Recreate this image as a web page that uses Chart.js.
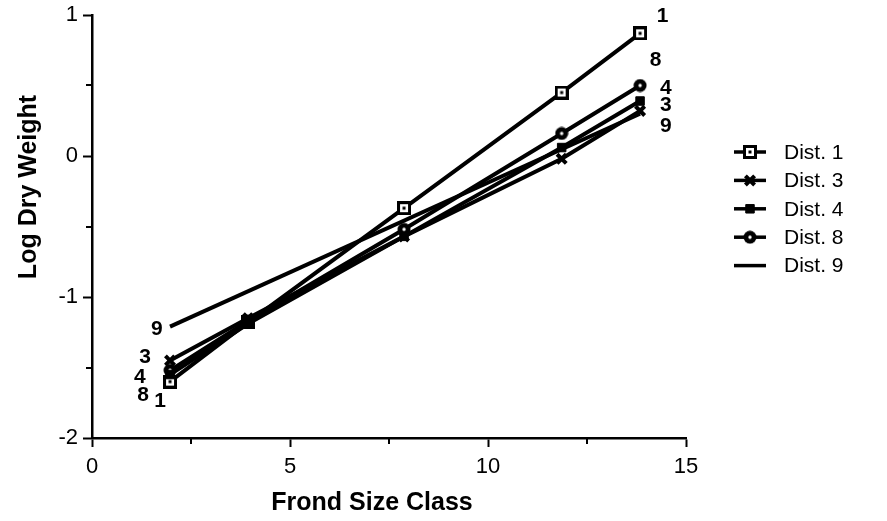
<!DOCTYPE html>
<html>
<head>
<meta charset="utf-8">
<script src="https://cdn.jsdelivr.net/npm/chart.js@4.4.1/dist/chart.umd.min.js"></script>
<style>
  html, body { margin: 0; padding: 0; background: #fff; }
  #wrap { width: 887px; height: 521px; position: relative; }
</style>
</head>
<body>
<div id="wrap"><canvas id="frondChart"></canvas></div>
<script>
// frond size class (x) and log dry weight per distance group
const sizeClass = [1.97, 3.94, 7.88, 11.86, 13.84];
const dist1 = [-1.60, -1.18, -0.37, 0.45, 0.87];
const dist3 = [-1.45, -1.15, -0.57, -0.02, 0.32];
const dist4 = [-1.55, -1.19, -0.57, 0.06, 0.39];
const dist8 = [-1.52, -1.17, -0.52, 0.16, 0.50];
const dist9X = [1.97, 13.84];
const dist9 = [-1.21, 0.30];

const seriesNames = ['Dist. 1', 'Dist. 3', 'Dist. 4', 'Dist. 8', 'Dist. 9'];

// group numbers written next to the line ends
const rightTags = ['1', '8', '4', '3', '9'];
const rightTagX = [14.41, 14.23, 14.49, 14.49, 14.49];
const rightTagY = [0.99, 0.68, 0.48, 0.36, 0.21];
const leftTags = ['9', '3', '4', '8', '1'];
const leftTagX = [1.64, 1.34, 1.21, 1.29, 1.72];
const leftTagY = [-1.23, -1.43, -1.57, -1.70, -1.74];

const xMinor = [2.5, 7.5, 12.5];
const yMinor = [-1.5, -0.5, 0.5];

const FONT = '"Liberation Sans", Arial, Helvetica, sans-serif';

function pts(xs, ys) {
  return xs.map((x, i) => ({ x: x, y: ys[i] }));
}

// open square with a dot in the middle
function squareMark() {
  const c = document.createElement('canvas');
  c.width = 14; c.height = 14;
  const g = c.getContext('2d');
  g.fillStyle = '#000'; g.fillRect(0, 0, 14, 14);
  g.fillStyle = '#fff'; g.fillRect(3, 3, 8, 8);
  g.fillStyle = '#000'; g.fillRect(5.5, 5.5, 3, 3);
  return c;
}

// solid round mark with a white centre
function dotMark() {
  const c = document.createElement('canvas');
  c.width = 14; c.height = 14;
  const g = c.getContext('2d');
  g.fillStyle = '#000';
  g.beginPath(); g.arc(7, 7, 6.5, 0, Math.PI * 2); g.fill();
  g.fillStyle = '#fff';
  g.beginPath(); g.arc(7, 7, 1.7, 0, Math.PI * 2); g.fill();
  return c;
}

const markStyles = [
  { pointStyle: squareMark(), radius: 7, borderWidth: 0 },
  { pointStyle: 'crossRot', radius: 6.5, borderWidth: 4 },
  { pointStyle: 'rect', radius: 6, borderWidth: 1 },
  { pointStyle: dotMark(), radius: 7, borderWidth: 0 },
  { pointStyle: false, radius: 0, borderWidth: 0 }
];

function lineSet(label, data, m) {
  return {
    label: label,
    data: data,
    borderColor: '#000',
    backgroundColor: '#000',
    borderWidth: 4,
    tension: 0,
    fill: false,
    pointStyle: m.pointStyle,
    pointRadius: m.radius,
    pointBorderWidth: m.borderWidth,
    pointBackgroundColor: '#000',
    pointBorderColor: '#000'
  };
}

const datasets = [
  lineSet(seriesNames[4], pts(dist9X, dist9), markStyles[4]),
  lineSet(seriesNames[2], pts(sizeClass, dist4), markStyles[2]),
  lineSet(seriesNames[1], pts(sizeClass, dist3), markStyles[1]),
  lineSet(seriesNames[3], pts(sizeClass, dist8), markStyles[3]),
  lineSet(seriesNames[0], pts(sizeClass, dist1), markStyles[0])
];

// minor ticks, axis titles, group numbers and the key
const extrasPlugin = {
  id: 'extras',
  afterDraw(chart) {
    const ctx = chart.ctx;
    const xs = chart.scales.x, ys = chart.scales.y;
    const area = chart.chartArea;
    ctx.save();
    ctx.strokeStyle = '#000';
    ctx.lineWidth = 2;
    xMinor.forEach(v => {
      const px = Math.round(xs.getPixelForValue(v));
      ctx.beginPath(); ctx.moveTo(px, area.bottom); ctx.lineTo(px, area.bottom + 6); ctx.stroke();
    });
    yMinor.forEach(v => {
      const py = Math.round(ys.getPixelForValue(v));
      ctx.beginPath(); ctx.moveTo(area.left, py); ctx.lineTo(area.left - 6, py); ctx.stroke();
    });

    ctx.fillStyle = '#000';
    ctx.textAlign = 'center';
    ctx.textBaseline = 'middle';

    ctx.font = 'bold 25px ' + FONT;
    ctx.fillText('Frond Size Class', 372, 503);
    ctx.save();
    ctx.translate(29, 187);
    ctx.rotate(-Math.PI / 2);
    ctx.fillText('Log Dry Weight', 0, 0);
    ctx.restore();

    ctx.font = 'bold 21px ' + FONT;
    rightTags.forEach((t, i) => {
      ctx.fillText(t, xs.getPixelForValue(rightTagX[i]), ys.getPixelForValue(rightTagY[i]));
    });
    leftTags.forEach((t, i) => {
      ctx.fillText(t, xs.getPixelForValue(leftTagX[i]), ys.getPixelForValue(leftTagY[i]));
    });

    // key on the right
    ctx.font = '21px ' + FONT;
    ctx.textAlign = 'left';
    seriesNames.forEach((name, i) => {
      const y = 152 + i * 28.4;
      ctx.lineWidth = 3.5;
      ctx.beginPath(); ctx.moveTo(734, y); ctx.lineTo(766, y); ctx.stroke();
      const m = markStyles[i];
      if (m.pointStyle) {
        ctx.lineWidth = m.borderWidth || 1;
        Chart.helpers.drawPoint(ctx, {
          pointStyle: m.pointStyle, radius: m.radius, rotation: 0, borderWidth: m.borderWidth
        }, 750, y);
      }
      ctx.fillText(name, 784, y + 1);
    });
    ctx.restore();
  }
};

new Chart(document.getElementById('frondChart'), {
  type: 'line',
  data: { datasets: datasets },
  plugins: [extrasPlugin],
  options: {
    responsive: true,
    maintainAspectRatio: false,
    animation: false,
    devicePixelRatio: 1,
    layout: { padding: { top: 15, right: 201, left: 0, bottom: 0 } },
    plugins: { legend: { display: false }, tooltip: { enabled: false } },
    scales: {
      x: {
        type: 'linear',
        min: 0, max: 15,
        afterFit(scale) {
          scale.height = 83;
          scale.paddingLeft = 0;
          scale.paddingRight = 0;
        },
        ticks: { stepSize: 5, color: '#000', font: { family: FONT, size: 22 }, padding: 7 },
        grid: { drawOnChartArea: false, tickLength: 9, tickWidth: 2, tickColor: '#000' },
        border: { color: '#000', width: 2.5 }
      },
      y: {
        type: 'linear',
        min: -2, max: 1,
        afterFit(scale) {
          scale.width = 92;
          scale.paddingTop = 0;
          scale.paddingBottom = 0;
        },
        ticks: { stepSize: 1, color: '#000', font: { family: FONT, size: 22 }, padding: 5 },
        grid: { drawOnChartArea: false, tickLength: 9, tickWidth: 2, tickColor: '#000' },
        border: { color: '#000', width: 2.5 }
      }
    }
  }
});
</script>
</body>
</html>
